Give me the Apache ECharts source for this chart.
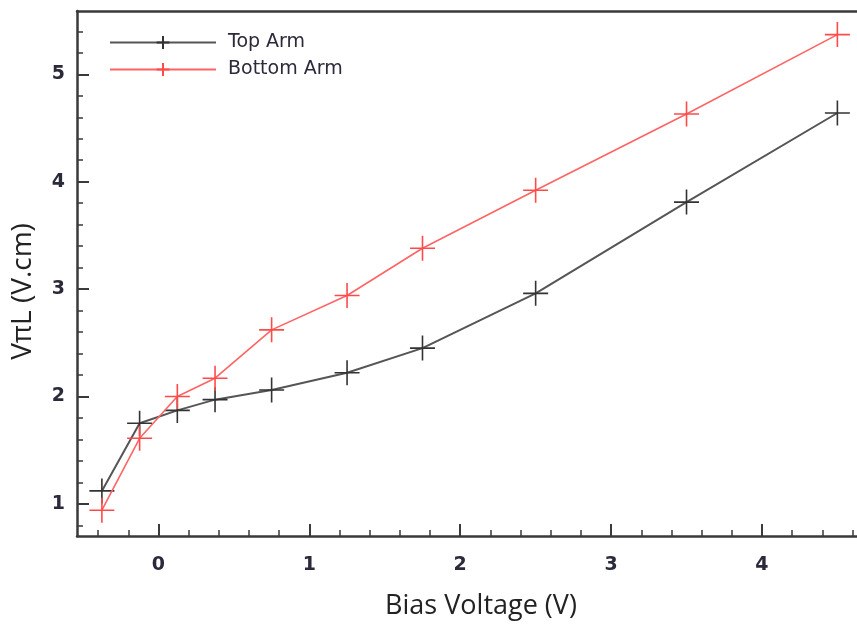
<!DOCTYPE html>
<html>
<head>
<meta charset="utf-8">
<script src="https://cdn.jsdelivr.net/npm/echarts@6/dist/echarts.min.js"></script>
<style>
html,body{margin:0;padding:0;background:#fff;}
#chart{width:857px;height:627px;}
</style>
</head>
<body>
<div id="chart"></div>
<script>
// Data
const biasVoltage = [-0.375, -0.125, 0.125, 0.375, 0.75, 1.25, 1.75, 2.5, 3.5, 4.5];
const topArm =    [1.12, 1.75, 1.87, 1.97, 2.06, 2.22, 2.45, 2.96, 3.81, 4.64];
const bottomArm = [0.94, 1.61, 2.00, 2.17, 2.62, 2.94, 3.38, 3.92, 4.63, 5.37];
const xMajorTicks = [0, 1, 2, 3, 4];
const xMinorTicks = [-0.4,-0.2,0.2,0.4,0.6,0.8,1.2,1.4,1.6,1.8,2.2,2.4,2.6,2.8,3.2,3.4,3.6,3.8,4.2,4.4,4.6];
const yMajorTicks = [1, 2, 3, 4, 5];
const yMinorTicks = [0.8,1.2,1.4,1.6,1.8,2.2,2.4,2.6,2.8,3.2,3.4,3.6,3.8,4.2,4.4,4.6,4.8,5.2,5.4];
const seriesNames = ['Top Arm', 'Bottom Arm'];

const X_MIN = -0.54, X_MAX = 4.63, Y_MIN = 0.7, Y_MAX = 5.59;
const axisColor = '#3a3a3a';
const plusSymbol = 'path://M0,10L20,10M10,0L10,20';

const chart = echarts.init(document.getElementById('chart'));
const pairs = (xs, ys) => xs.map((x, i) => [x, ys[i]]);

const baseX = {type: 'value', min: X_MIN, max: X_MAX, splitLine: {show: false}};
const baseY = {type: 'value', min: Y_MIN, max: Y_MAX, splitLine: {show: false}};

chart.setOption({
  animation: false,
  backgroundColor: '#fff',
  grid: {left: 77, right: 0, top: 11, bottom: 91, containLabel: false},
  legend: {
    orient: 'vertical',
    left: 109, top: 33, padding: 0,
    itemWidth: 106, itemHeight: 16, itemGap: 8,
    data: seriesNames,
    textStyle: {fontFamily: 'DejaVu Sans', fontSize: 19, color: '#2a2a3a', padding: [0, 0, 0, 7]}
  },
  xAxis: [
    Object.assign({}, baseX, {
      position: 'bottom',
      name: 'Bias Voltage (V)', nameLocation: 'middle', nameGap: 57,
      nameTextStyle: {fontFamily: 'Open Sans', fontSize: 27, color: '#222', padding: [0, 0, 0, 28]},
      axisLine: {show: true, onZero: false, lineStyle: {color: axisColor, width: 2.5}},
      axisTick: {show: true, inside: true, length: 12, customValues: xMajorTicks, lineStyle: {color: axisColor, width: 2}},
      axisLabel: {show: true, customValues: xMajorTicks, margin: 20, fontFamily: 'DejaVu Sans', fontWeight: 'bold', fontSize: 19, color: '#2a2a3a'}
    }),
    Object.assign({}, baseX, {
      position: 'bottom',
      axisLine: {show: false, onZero: false},
      axisTick: {show: true, inside: true, length: 6, customValues: xMinorTicks, lineStyle: {color: axisColor, width: 1.5}},
      axisLabel: {show: false}
    }),
    Object.assign({}, baseX, {
      position: 'top',
      axisLine: {show: true, onZero: false, lineStyle: {color: axisColor, width: 2.5}},
      axisTick: {show: false},
      axisLabel: {show: false}
    })
  ],
  yAxis: [
    Object.assign({}, baseY, {
      position: 'left',
      name: 'V\u03c0L (V.cm)', nameLocation: 'middle', nameGap: 40, nameRotate: 90,
      nameTextStyle: {fontFamily: 'Open Sans', fontSize: 28, color: '#222', padding: [0, 36, 0, 0]},
      axisLine: {show: true, onZero: false, lineStyle: {color: axisColor, width: 2.5}},
      axisTick: {show: true, inside: true, length: 12, customValues: yMajorTicks, lineStyle: {color: axisColor, width: 2}},
      axisLabel: {show: true, customValues: yMajorTicks, margin: 12, fontFamily: 'DejaVu Sans', fontWeight: 'bold', fontSize: 19, color: '#2a2a3a'}
    }),
    Object.assign({}, baseY, {
      position: 'left',
      axisLine: {show: false, onZero: false},
      axisTick: {show: true, inside: true, length: 6, customValues: yMinorTicks, lineStyle: {color: axisColor, width: 1.5}},
      axisLabel: {show: false}
    })
  ],
  series: [
    {
      name: seriesNames[0], type: 'line', xAxisIndex: 0, yAxisIndex: 0,
      data: pairs(biasVoltage, topArm),
      symbol: plusSymbol, symbolSize: 25,
      color: '#4a4a4a',
      lineStyle: {color: '#555', width: 2},
      itemStyle: {color: '#333', borderColor: '#333', borderWidth: 1.6},
      z: 3
    },
    {
      name: seriesNames[1], type: 'line', xAxisIndex: 0, yAxisIndex: 0,
      data: pairs(biasVoltage, bottomArm),
      symbol: plusSymbol, symbolSize: 25,
      color: '#ff5a5a',
      lineStyle: {color: '#ff6464', width: 1.6},
      itemStyle: {color: '#ff4a4a', borderColor: '#ff4a4a', borderWidth: 1.6},
      z: 4
    }
  ]
});
</script>
</body>
</html>
